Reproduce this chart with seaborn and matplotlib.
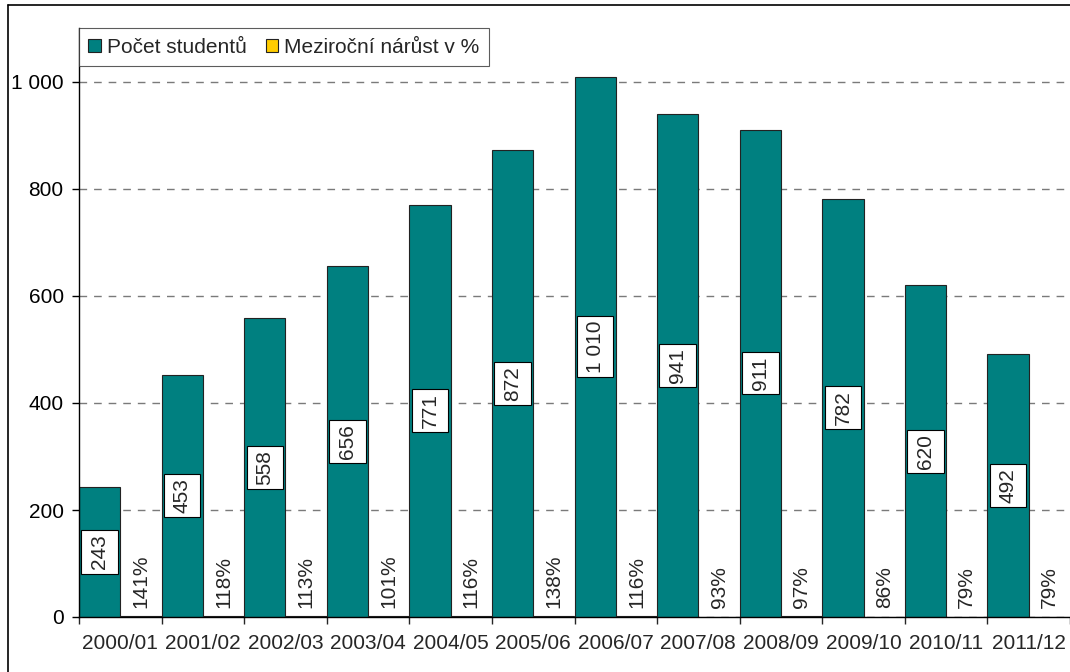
import matplotlib
matplotlib.use('Agg')
import matplotlib.pyplot as plt
import seaborn as sns
import pandas as pd
from matplotlib.lines import Line2D
from matplotlib.path import Path
from matplotlib.ticker import FixedLocator, FuncFormatter

years = ['2000/01', '2001/02', '2002/03', '2003/04', '2004/05', '2005/06',
         '2006/07', '2007/08', '2008/09', '2009/10', '2010/11', '2011/12']
students = [243, 453, 558, 656, 771, 872, 1010, 941, 911, 782, 620, 492]
growth_pct = [141, 118, 113, 101, 116, 138, 116, 93, 97, 86, 79, 79]
series = ['Počet studentů', 'Meziroční nárůst v %']

df = pd.DataFrame({
    'rok': years * 2,
    'serie': [series[0]] * len(years) + [series[1]] * len(years),
    # growth drawn on the same scale as in the original (ratio -> almost invisible bar)
    'hodnota': students + [g / 100 for g in growth_pct],
})


def space_thousands(v, pos=None):
    return f'{int(round(v)):,}'.replace(',', ' ')


def label_box(x0, y0, width, height, mutation_size):
    # box with more room across the (rotated) text than along it
    px, py = 0.2 * mutation_size, 0.42 * mutation_size
    x0, y0 = x0 - px, y0 - py
    x1, y1 = x0 + width + 2 * px, y0 + height + 2 * py
    return Path([(x0, y0), (x1, y0), (x1, y1), (x0, y1), (x0, y0)], closed=True)


sns.set_style('white')
plt.rcParams['font.family'] = ['Liberation Sans', 'DejaVu Sans']
plt.rcParams['font.size'] = 15

fig = plt.figure(figsize=(10.7, 6.72), dpi=100)
ax = fig.add_axes([79 / 1070, 55 / 672, 1 - 79 / 1070, (617 - 28.5) / 672])

sns.barplot(data=df, x='rok', y='hodnota', hue='serie', palette=['#008080', '#FFCC00'],
            width=1.0, saturation=1, edgecolor='#222222', linewidth=0.8, ax=ax)

ax.set_xlim(-0.5, len(years) - 0.5)
ax.set_ylim(0, 1100)
ax.set_xlabel('')
ax.set_ylabel('')

# y axis
ax.yaxis.set_major_locator(FixedLocator(range(0, 1001, 200)))
ax.yaxis.set_major_formatter(FuncFormatter(space_thousands))
ax.tick_params(axis='y', which='major', left=True, length=5, width=1, pad=6,
               labelsize=15, colors='black', direction='out')
ax.yaxis.grid(True, color='#7a7a7a', linestyle=(0, (5.5, 5)), linewidth=1)
ax.set_axisbelow(True)

# x axis: ticks between categories, labels centred
ax.xaxis.set_major_locator(FixedLocator([i - 0.5 for i in range(len(years) + 1)]))
ax.xaxis.set_major_formatter(FuncFormatter(lambda v, p: ''))
ax.xaxis.set_minor_locator(FixedLocator(range(len(years))))
ax.xaxis.set_minor_formatter(FuncFormatter(lambda v, p: years[int(round(v))]))
ax.tick_params(axis='x', which='major', bottom=True, length=5, width=1, direction='out')
ax.tick_params(axis='x', which='minor', bottom=True, length=0, pad=12, labelsize=15)

for side in ['top', 'right']:
    ax.spines[side].set_visible(False)
for side in ['left', 'bottom']:
    ax.spines[side].set_color('black')
    ax.spines[side].set_linewidth(1)

# labels
ax.bar_label(ax.containers[0], labels=[space_thousands(v) for v in students],
             label_type='center', rotation=90, fontsize=15,
             bbox=dict(boxstyle=label_box, facecolor='white', edgecolor='black', linewidth=0.8))
ax.bar_label(ax.containers[1], labels=[f'{g}%' for g in growth_pct],
             label_type='edge', padding=6, rotation=90, fontsize=15,
             bbox=dict(boxstyle='square,pad=0.15', facecolor='white', edgecolor='none'))

handles, _ = ax.get_legend_handles_labels()
leg = ax.legend(handles, series, loc='upper left', bbox_to_anchor=(0, 1), ncol=2,
                frameon=True, fancybox=False, edgecolor='#333333', borderaxespad=0,
                handlelength=0.6, handleheight=0.6, handletextpad=0.3,
                columnspacing=0.9, borderpad=0.45, fontsize=15)
leg.get_frame().set_linewidth(0.8)

# outer frame of the chart area
fig.add_artist(Line2D([8 / 1070, 8 / 1070], [0, 1 - 5 / 672], transform=fig.transFigure,
                      color='black', linewidth=1.2))
fig.add_artist(Line2D([8 / 1070, 1], [1 - 5 / 672, 1 - 5 / 672], transform=fig.transFigure,
                      color='black', linewidth=1.2))

fig.savefig('out.png', dpi=100)
